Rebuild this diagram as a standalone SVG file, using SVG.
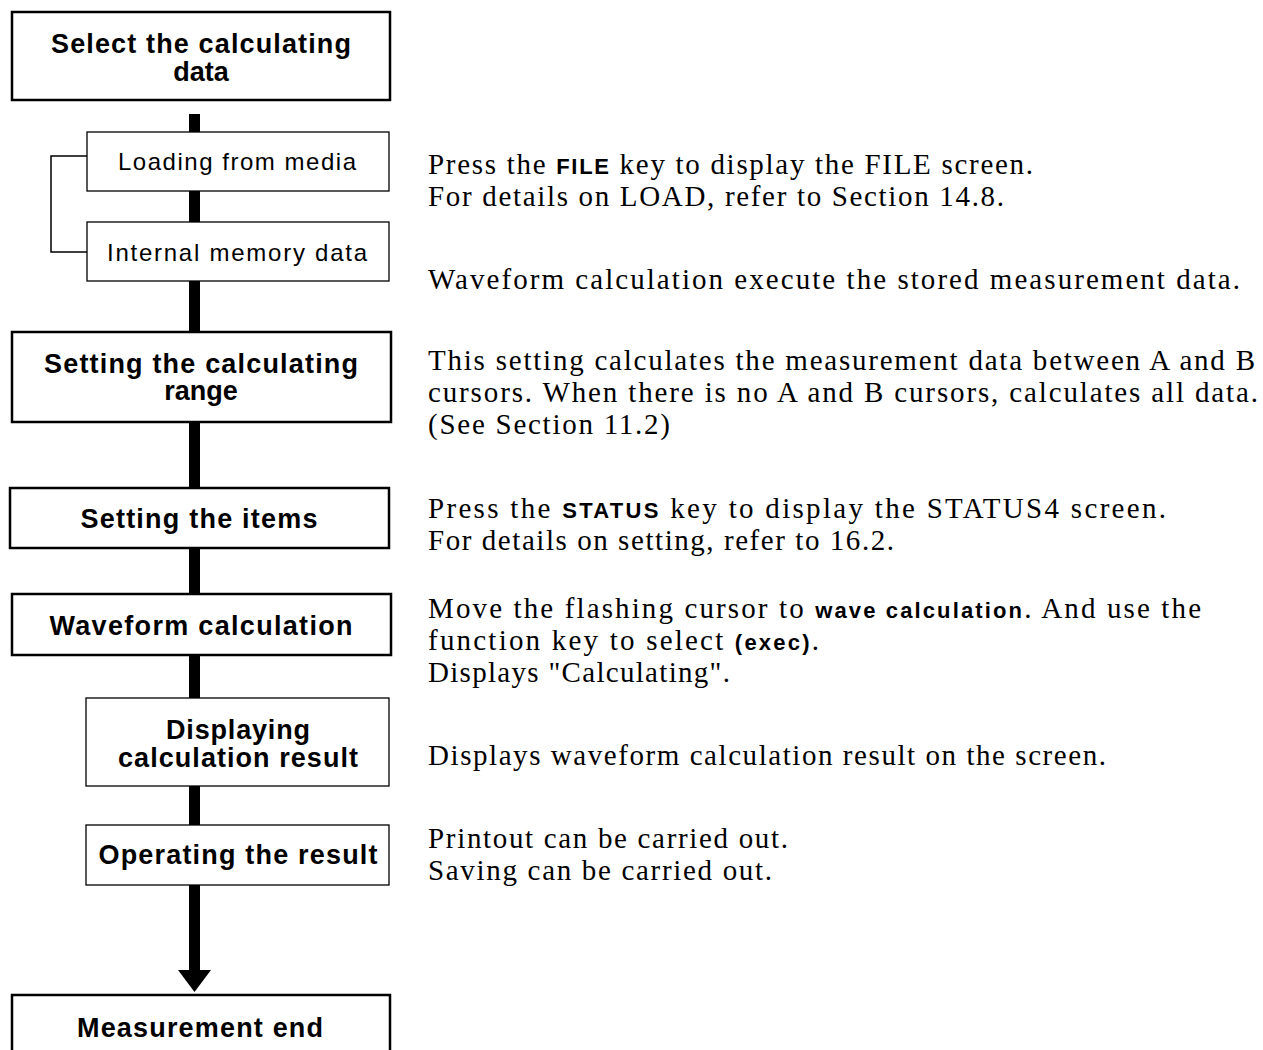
<svg xmlns="http://www.w3.org/2000/svg" width="1263" height="1050" viewBox="0 0 1263 1050">
<style>
.main{fill:#fff;stroke:#000;stroke-width:2.5}
.sub{fill:#fff;stroke:#000;stroke-width:1.3}
.bt{font-family:"Liberation Sans",Arial,sans-serif;font-weight:bold;font-size:27px;fill:#000;text-anchor:middle}
.st{font-family:"Liberation Sans",Arial,sans-serif;font-size:24px;fill:#000;text-anchor:middle}
.rt{font-family:"Liberation Serif","Times New Roman",serif;font-size:29px;fill:#000}
.k{font-family:"Liberation Sans",Arial,sans-serif;font-weight:bold;font-size:22px}
.bar{stroke:#000;stroke-width:11;fill:none}
</style>
<rect width="1263" height="1050" fill="#fff"/>
<g id="connectors">
<line class="bar" x1="194.5" y1="114" x2="194.5" y2="970"/>
<polygon points="178,970 211,970 194.5,992" fill="#000"/>
<path d="M87,156 H51 V252 H87" fill="none" stroke="#000" stroke-width="1.5"/>
</g>
<g id="n1"><rect class="main" x="12" y="12" width="378" height="88"/>
<text class="bt" x="201" y="53" textLength="300" lengthAdjust="spacing">Select the calculating</text>
<text class="bt" x="201" y="81">data</text></g>
<g id="n2"><rect class="sub" x="87" y="132" width="302" height="59"/>
<text class="st" x="237" y="170" textLength="238" lengthAdjust="spacing">Loading from media</text></g>
<g id="n3"><rect class="sub" x="87" y="222" width="302" height="59"/>
<text class="st" x="237" y="261" textLength="260" lengthAdjust="spacing">Internal memory data</text></g>
<g id="n4"><rect class="main" x="12" y="332" width="379" height="90"/>
<text class="bt" x="201" y="373" textLength="314" lengthAdjust="spacing">Setting the calculating</text>
<text class="bt" x="201" y="400">range</text></g>
<g id="n5"><rect class="main" x="10" y="488" width="379" height="60"/>
<text class="bt" x="199" y="528" textLength="237" lengthAdjust="spacing">Setting the items</text></g>
<g id="n6"><rect class="main" x="12" y="594" width="379" height="61"/>
<text class="bt" x="201" y="635" textLength="303" lengthAdjust="spacing">Waveform calculation</text></g>
<g id="n7"><rect class="sub" x="86" y="698" width="303" height="88"/>
<text class="bt" x="238" y="739" textLength="144" lengthAdjust="spacing">Displaying</text>
<text class="bt" x="238" y="767" textLength="240" lengthAdjust="spacing">calculation result</text></g>
<g id="n8"><rect class="sub" x="86" y="825" width="303" height="60"/>
<text class="bt" x="238" y="864" textLength="279" lengthAdjust="spacing">Operating the result</text></g>
<g id="n9"><rect class="main" x="12" y="995" width="378" height="70"/>
<text class="bt" x="200" y="1037" textLength="246" lengthAdjust="spacing">Measurement end</text></g>
<g id="notes">
<text class="rt" x="428" y="174" textLength="605" lengthAdjust="spacing">Press the <tspan class="k">FILE</tspan> key to display the FILE screen.</text>
<text class="rt" x="428" y="206" textLength="576" lengthAdjust="spacing">For details on LOAD, refer to Section 14.8.</text>
<text class="rt" x="428" y="289" textLength="812" lengthAdjust="spacing">Waveform calculation execute the stored measurement data.</text>
<text class="rt" x="428" y="370" textLength="827" lengthAdjust="spacing">This setting calculates the measurement data between A and B</text>
<text class="rt" x="428" y="402" textLength="830" lengthAdjust="spacing">cursors.  When there is no A and B cursors, calculates all data.</text>
<text class="rt" x="428" y="434" textLength="242" lengthAdjust="spacing">(See Section 11.2)</text>
<text class="rt" x="428" y="518" textLength="738" lengthAdjust="spacing">Press the <tspan class="k">STATUS</tspan> key to display the STATUS4 screen.</text>
<text class="rt" x="428" y="550" textLength="466" lengthAdjust="spacing">For details on setting, refer to 16.2.</text>
<text class="rt" x="428" y="618" textLength="773" lengthAdjust="spacing">Move the flashing cursor to <tspan class="k">wave calculation</tspan>.  And use the</text>
<text class="rt" x="428" y="650" textLength="391" lengthAdjust="spacing">function key to select  <tspan class="k">(exec)</tspan>.</text>
<text class="rt" x="428" y="682" textLength="302" lengthAdjust="spacing">Displays "Calculating".</text>
<text class="rt" x="428" y="765" textLength="678" lengthAdjust="spacing">Displays waveform calculation result on the screen.</text>
<text class="rt" x="428" y="848" textLength="360" lengthAdjust="spacing">Printout can be carried out.</text>
<text class="rt" x="428" y="880" textLength="344" lengthAdjust="spacing">Saving can be carried out.</text>
</g>
</svg>
